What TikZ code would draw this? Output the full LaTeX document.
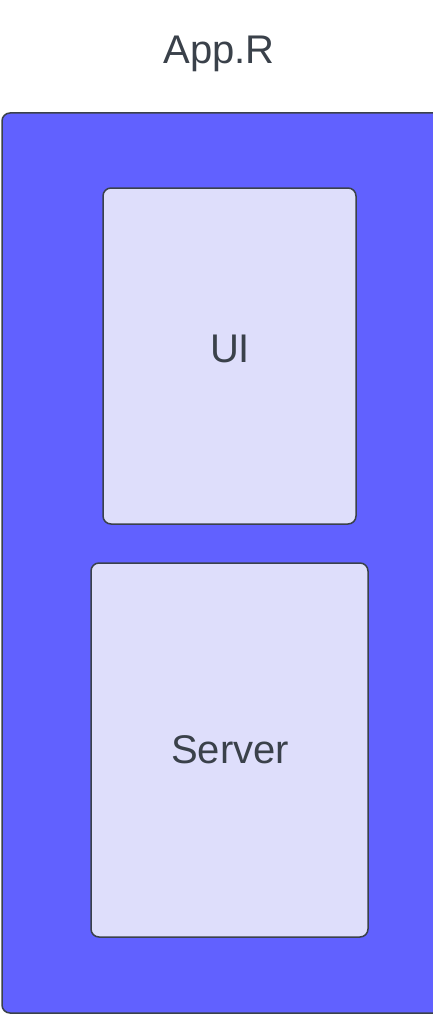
\documentclass[tikz,border=0pt]{standalone}
\usepackage{fontspec}
\setmainfont{Liberation Sans}
\definecolor{appblue}{HTML}{6161FF}
\definecolor{partfill}{HTML}{DEDEFB}
\definecolor{inkgray}{HTML}{3A414A}
\tikzset{
  part/.style={draw=inkgray, line width=1.5pt, fill=partfill, rounded corners=8pt},
  label/.style={text=inkgray, anchor=base, inner sep=0pt, font=\fontsize{40}{40}\selectfont}
}
\begin{document}
\begin{tikzpicture}[x=1pt, y=-1pt]

      \useasboundingbox (0,0) rectangle (433,1014);
      \draw[draw=inkgray, line width=1.5pt, fill=appblue, rounded corners=8pt] (2,113) rectangle (445,1013);
      \node[label] (app) at (219,64) {App.R};
      \draw[part] (103,188) rectangle (356,524);
      \node[label] (ui) at (230,362) {UI};
      \draw[part] (91,563) rectangle (368,937);
      \node[label] (server) at (230,763) {Server};

    \end{tikzpicture}
\end{document}
